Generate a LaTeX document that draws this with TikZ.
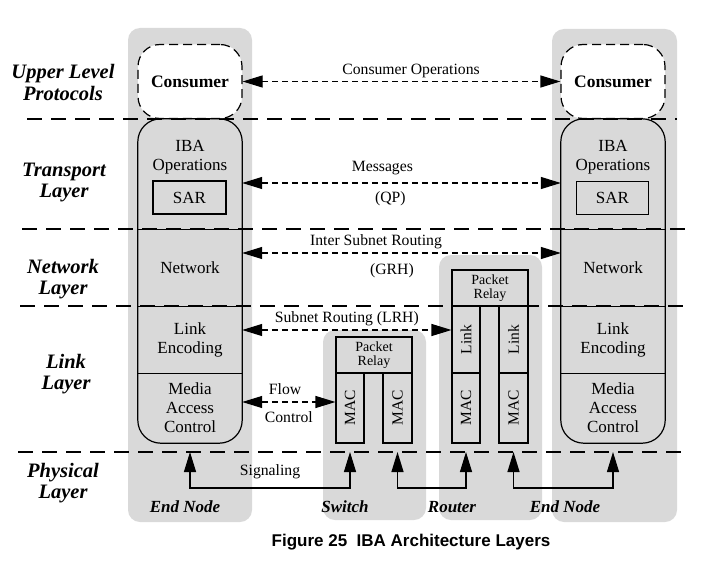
\documentclass[tikz,border=0pt]{standalone}
\usepackage{fontspec}
\usepackage{graphicx}
\setmainfont{Liberation Serif}
\setsansfont{Liberation Sans}
\usetikzlibrary{arrows.meta}
\definecolor{colgray}{RGB}{217,217,217}

\begin{document}
\begin{tikzpicture}[x=1pt,y=-1pt,
        every node/.style={font=\fontsize{17}{19}\selectfont, align=center, inner sep=0pt},
        column/.style={fill=colgray, rounded corners=12pt},
        layerline/.style={line width=1.3pt, dash pattern=on 15pt off 9pt},
        consumer/.style={draw, line width=1.2pt, dash pattern=on 9pt off 5pt, fill=white, rounded corners=22pt,
            minimum width=104pt, minimum height=74pt, font=\fontsize{17.5}{19}\selectfont\bfseries},
        sect/.style={minimum width=104pt},
        box/.style={draw, line width=1.1pt, fill=colgray},
        relay/.style={box, minimum width=76pt, minimum height=36pt, font=\fontsize{14}{14}\selectfont},
        port/.style={box, minimum height=70pt, font=\fontsize{15.5}{17}\selectfont},
        msg/.style={line width=1.2pt, dash pattern=on 6pt off 4pt,
            {Triangle[length=20pt,width=12pt]}-{Triangle[length=20pt,width=12pt]}},
        sig/.style={line width=1.2pt, {Triangle[length=20pt,width=12pt]}-{Triangle[length=20pt,width=12pt]}},
        lbl/.style={font=\fontsize{15.7}{18}\selectfont},
        lyr/.style={font=\fontsize{20.5}{21.5}\selectfont\bfseries\itshape},
        coll/.style={font=\fontsize{17}{19}\selectfont\bfseries\itshape}]
    \useasboundingbox (0,0) rectangle (703,588);

    \node[column, minimum width=124pt, minimum height=494pt] (lcol) at (190,275) {};
    \node[column, minimum width=125pt, minimum height=493pt] (rcol) at (614.5,275.5) {};
    \node[column, minimum width=103pt, minimum height=190pt] (swcol) at (374.5,425) {};
    \node[column, minimum width=103pt, minimum height=265pt] (rtcol) at (490.5,387.5) {};

    \coordinate (phys) at (18,452);
    \coordinate (bus) at (0,488);
    \draw[layerline] (27,119) -- (677,119);
    \draw[layerline] (22,229) -- (685,229);
    \draw[layerline] (20,306) -- (687,306);
    \draw[layerline] (phys) -- (683,452);

    \node[lyr] (ulp) at (63,82.5) {Upper Level\\Protocols};
    \node[lyr] (tpl) at (64,182.5) {Transport\\Layer};
    \node[lyr] (nwl) at (63,279) {Network\\Layer};
    \node[lyr] (lkl) at (66,374) {Link\\Layer};
    \node[lyr] (phl) at (63,483) {Physical\\Layer};

    \node[consumer] (lcons) at (190,81.5) {Consumer};
    \node[consumer] (rcons) at (613,81.5) {Consumer};

    \node[sect, minimum height=110pt] (ltrn) at (190,174) {};
    \node[sect, minimum height=77pt] (lnet) at (190,267.5) {Network};
    \node[sect, minimum height=67pt] (lenc) at (190,339.5) {Link\\Encoding};
    \node[sect, minimum height=70pt] (lmac) at (190,408) {Media\\Access\\Control};
    \node (lops) at (190,157.5) {IBA\\Operations};
    \node[box, minimum width=73pt, minimum height=33pt] (lsar) at (189.5,197.5) {SAR};
    \draw[line width=1.2pt, rounded corners=23pt] (ltrn.north west) rectangle (lmac.south east);
    \draw[line width=1.2pt] (ltrn.south west) -- (ltrn.south east) (lnet.south west) -- (lnet.south east)
        (lenc.south west) -- (lenc.south east);

    \node[sect, minimum height=110pt] (rtrn) at (613,174) {};
    \node[sect, minimum height=77pt] (rnet) at (613,267.5) {Network};
    \node[sect, minimum height=67pt] (renc) at (613,339.5) {Link\\Encoding};
    \node[sect, minimum height=70pt] (rmac) at (613,408) {Media\\Access\\Control};
    \node (rops) at (613,157.5) {IBA\\Operations};
    \node[box, minimum width=72pt, minimum height=33pt] (rsar) at (612.5,198) {SAR};
    \draw[line width=1.2pt, rounded corners=23pt] (rtrn.north west) rectangle (rmac.south east);
    \draw[line width=1.2pt] (rtrn.south west) -- (rtrn.south east) (rnet.south west) -- (rnet.south east)
        (renc.south west) -- (renc.south east);

    \node[relay] (swrel) at (374,355) {Packet\\Relay};
    \node[port, minimum width=28pt] (swmac1) at (350,408) {\rotatebox{90}{MAC}};
    \node[port, minimum width=29pt] (swmac2) at (397.5,408) {\rotatebox{90}{MAC}};

    \node[relay] (rtrel) at (490,288) {Packet\\Relay};
    \node[port, minimum width=28pt, minimum height=67pt] (rtlink1) at (466,339.5) {\rotatebox{90}{Link}};
    \node[port, minimum width=29pt, minimum height=67pt] (rtlink2) at (513.5,339.5) {\rotatebox{90}{Link}};
    \node[port, minimum width=28pt] (rtmac1) at (466,408) {\rotatebox{90}{MAC}};
    \node[port, minimum width=29pt] (rtmac2) at (513.5,408) {\rotatebox{90}{MAC}};

    \draw[msg] (lcons) to node[lbl, above=3pt, pos=0.53] {Consumer Operations} (rcons);
    \draw[msg] ([yshift=-9pt]ltrn.east) to node[lbl, above=8pt, pos=0.44] {Messages}
        node[lbl, below=8pt, pos=0.465] {(QP)} ([yshift=-9pt]rtrn.west);
    \draw[msg] ([yshift=14.5pt]lnet.east) to node[lbl, above=4pt, pos=0.42] {Inter Subnet Routing}
        node[lbl, below=10pt, pos=0.47] {(GRH)} ([yshift=14.5pt]rnet.west);
    \draw[msg] ([yshift=9.5pt]lenc.east) to node[lbl, above=4pt, pos=0.5] {Subnet Routing (LRH)} ([yshift=9.5pt]rtlink1.west);
    \draw[msg] ([yshift=6pt]lmac.east) to node[lbl, above=7pt, pos=0.46] {Flow}
        node[lbl, below=9pt, pos=0.5] {Control} ([yshift=6pt]swmac1.west);

    \draw[sig] (lmac.south |- phys) -- (lmac.south |- bus) -- node[lbl, above=9pt] {Signaling}
        (swmac1.south |- bus) -- (swmac1.south |- phys);
    \draw[sig] (swmac2.south |- phys) -- (swmac2.south |- bus) -- (rtmac1.south |- bus) -- (rtmac1.south |- phys);
    \draw[sig] (rtmac2.south |- phys) -- (rtmac2.south |- bus) -- (rmac.south |- bus) -- (rmac.south |- phys);

    \node[coll] (lend) at (185,507) {End Node};
    \node[coll] (swlab) at (345,507) {Switch};
    \node[coll] (rtlab) at (452,507) {Router};
    \node[coll] (rend) at (565,507) {End Node};

    \node[font=\sffamily\bfseries\fontsize{17}{19}\selectfont] (cap) at (411,542) {Figure 25\ \ IBA Architecture Layers};
\end{tikzpicture}
\end{document}
